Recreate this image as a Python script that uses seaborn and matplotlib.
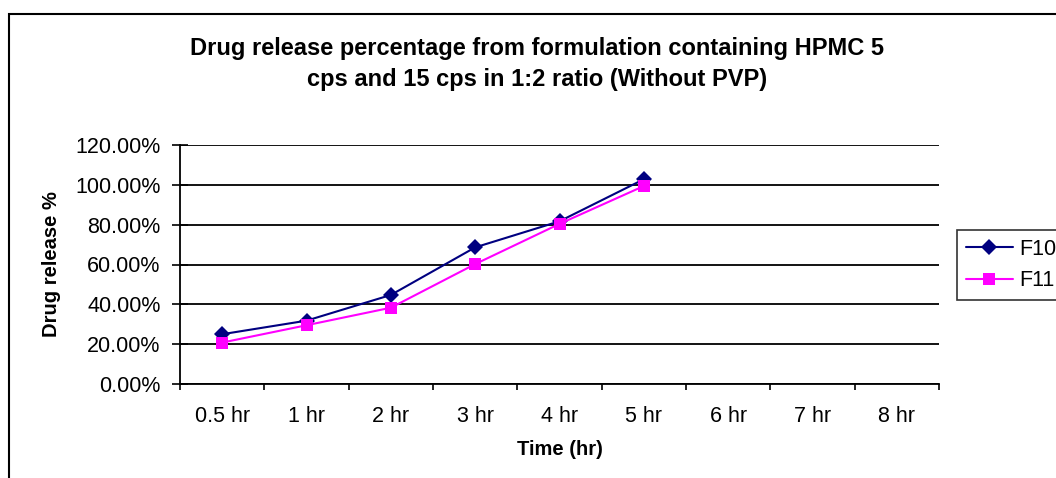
import numpy as np
import pandas as pd
import seaborn as sns
import matplotlib
matplotlib.use("Agg")
import matplotlib.pyplot as plt
from matplotlib.ticker import PercentFormatter, FixedLocator, FixedFormatter, NullFormatter
from matplotlib.patches import Rectangle

categories = ["0.5 hr", "1 hr", "2 hr", "3 hr", "4 hr", "5 hr", "6 hr", "7 hr", "8 hr"]
f10 = [0.250, 0.318, 0.447, 0.686, 0.817, 1.028]
f11 = [0.208, 0.295, 0.383, 0.602, 0.804, 0.994]
series_names = ["F10", "F11"]
series_colors = ["#000080", "#FF00FF"]
y_ticks = [0.0, 0.2, 0.4, 0.6, 0.8, 1.0, 1.2]

sns.set_theme(style="white")
plt.rcParams["font.family"] = ["Liberation Sans", "DejaVu Sans"]
plt.rcParams["text.color"] = "black"
plt.rcParams["axes.labelcolor"] = "black"

W, H = 1056, 478
fig = plt.figure(figsize=(W / 100, H / 100), dpi=100)
ax = fig.add_axes([180 / W, 1 - 384 / H, (939 - 180) / W, (384 - 145) / H])

rows = []
for name, vals in zip(series_names, [f10, f11]):
    for i, v in enumerate(vals):
        rows.append({"pos": i, "value": v, "series": name})
df = pd.DataFrame(rows)

sns.lineplot(data=df, x="pos", y="value", hue="series", style="series",
             palette=dict(zip(series_names, series_colors)),
             markers={"F10": "D", "F11": "s"}, dashes=False,
             markersize=8.5, linewidth=1.5, markeredgewidth=0, ax=ax, legend=True)

ax.set_xlim(-0.5, len(categories) - 0.5)
ax.set_ylim(0, 1.2)
ax.yaxis.set_major_locator(FixedLocator(y_ticks))
ax.yaxis.set_major_formatter(PercentFormatter(1.0, decimals=2))
ax.grid(axis="y", color="black", linewidth=1.3)
ax.grid(axis="x", visible=False)

ax.xaxis.set_major_locator(FixedLocator(np.arange(-0.5, len(categories), 1.0)))
ax.xaxis.set_major_formatter(NullFormatter())
ax.xaxis.set_minor_locator(FixedLocator(np.arange(len(categories))))
ax.xaxis.set_minor_formatter(FixedFormatter(categories))
ax.tick_params(axis="x", which="major", direction="out", length=4, width=1.2, color="black", bottom=True)
ax.tick_params(axis="x", which="minor", length=0, labelsize=15.5, pad=16, labelcolor="black")
ax.tick_params(axis="y", which="major", direction="inout", length=12, width=1.2, color="black",
               left=True, labelsize=15.5, pad=8, labelcolor="black")

for s in ["top", "right"]:
    ax.spines[s].set_visible(False)
for s in ["left", "bottom"]:
    ax.spines[s].set_color("black")
    ax.spines[s].set_linewidth(1.3)

ax.set_xlabel("Time (hr)", fontsize=14.5, fontweight="bold", labelpad=9)
ax.set_ylabel("Drug release %", fontsize=14.5, fontweight="bold", labelpad=10)

fig.text(537 / W, 1 - 64 / H, "Drug release percentage from formulation containing HPMC 5\ncps and 15 cps in 1:2 ratio (Without PVP)",
         ha="center", va="center", fontsize=17, fontweight="bold", linespacing=1.45, color="black")

handles, labels = ax.get_legend_handles_labels()
ax.get_legend().remove()
fig.legend(handles, labels, loc="upper left", bbox_to_anchor=(957 / W, 1 - 230 / H),
           frameon=True, fancybox=False, edgecolor="black", fontsize=15.5,
           handlelength=2.2, handletextpad=0.3, borderpad=0.4, labelspacing=0.5,
           borderaxespad=0)
fl = fig.legends[0]
fl.get_frame().set_linewidth(1.2)

fig.patches.append(Rectangle((9 / W, -0.1), 1.2, 1 - 14 / H + 0.1, transform=fig.transFigure,
                             fill=False, edgecolor="black", linewidth=1.5, clip_on=False))

fig.savefig("out.png", dpi=100, facecolor="white")
